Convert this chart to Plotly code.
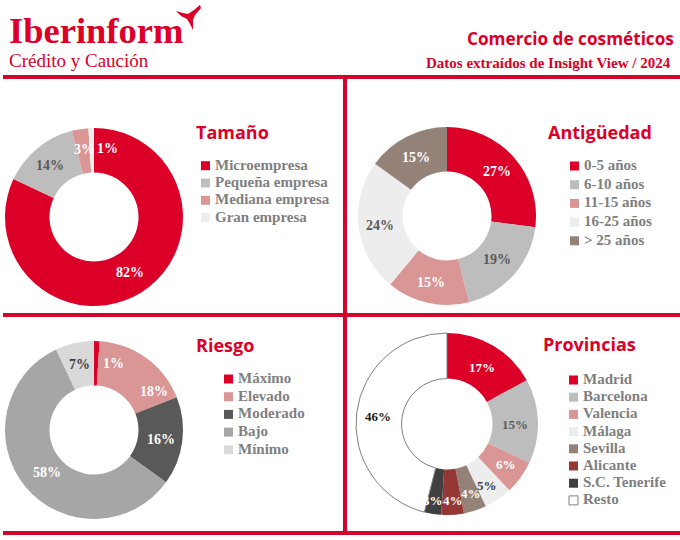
import plotly.graph_objects as go

W, H = 680, 540
RED = '#DC0028'
SLAB = 'Liberation Serif'
SANS = 'Open Sans'

# data
tam_names = ['Microempresa', 'Pequeña empresa', 'Mediana empresa', 'Gran empresa']
tam_values = [82, 14, 3, 1]
ant_names = ['0-5 años', '6-10 años', '11-15 años', '16-25 años', '> 25 años']
ant_values = [27, 19, 15, 24, 15]
rie_names = ['Máximo', 'Elevado', 'Moderado', 'Bajo', 'Mínimo']
rie_values = [1, 18, 16, 58, 7]
pro_names = ['Madrid', 'Barcelona', 'Valencia', 'Málaga', 'Sevilla', 'Alicante', 'S.C. Tenerife', 'Resto']
pro_values = [17, 15, 6, 5, 4, 4, 3, 46]

tam_colors = [RED, '#BDBDBD', '#DA9694', '#EDEDED']
ant_colors = [RED, '#BDBDBD', '#DA9694', '#EDEDED', '#948279']
rie_colors = [RED, '#DA9694', '#595959', '#A6A6A6', '#D9D9D9']
pro_colors = [RED, '#BDBDBD', '#DA9694', '#EDEDED', '#948279', '#953735', '#404040', '#FFFFFF']


def px(x):
    return x / W


def py(y):
    return 1 - y / H


fig = go.Figure()
annotations = []
shapes = []


def add_text(x, y, text, size, color, family=SLAB, anchor='left'):
    annotations.append(dict(
        x=px(x), y=py(y), xref='paper', yref='paper', text=text, showarrow=False,
        xanchor=anchor, yanchor='middle', borderpad=0,
        font=dict(size=size, color=color, family=family)
    ))


def add_donut(title, names, values, colors, cx, cy, r, title_pos, leg_x, leg_y, leg_step, label_pos, label_colors, label_size=14):
    line_w = [1 if c == '#FFFFFF' else 0 for c in colors]
    line_c = ['#7F7F7F' if c == '#FFFFFF' else c for c in colors]
    fig.add_trace(go.Pie(
        labels=names, values=values, hole=0.5, sort=False, direction='clockwise',
        rotation=0, textinfo='none', showlegend=False,
        marker=dict(colors=colors, line=dict(width=line_w, color=line_c)),
        domain=dict(x=[px(cx - r), px(cx + r)], y=[py(cy + r), py(cy - r)])
    ))
    add_text(title_pos[0], title_pos[1], '<b>%s</b>' % title, 18, RED, SANS)
    for i, name in enumerate(names):
        y = leg_y + i * leg_step
        shapes.append(dict(
            type='rect', xref='paper', yref='paper',
            x0=px(leg_x), x1=px(leg_x + 9), y0=py(y - 4.5), y1=py(y + 4.5),
            fillcolor=colors[i],
            line=dict(width=1 if colors[i] == '#FFFFFF' else 0, color='#7F7F7F')
        ))
        add_text(leg_x + 13, y - 1, '<b>%s</b>' % name, 15, '#7F7F7F')
    for v, pos, col in zip(values, label_pos, label_colors):
        add_text(pos[0], pos[1], '<b>%d%%</b>' % v, label_size, col, SLAB, 'center')


add_donut('Tamaño', tam_names, tam_values, tam_colors, 94, 217, 89, (195, 132), 201, 165.7, 17.3,
          [(130, 272), (50, 166), (84, 149), (107, 148)],
          ['white', '#595959', 'white', 'white'])
add_donut('Antigüedad', ant_names, ant_values, ant_colors, 447, 216, 89, (547, 132), 570, 166, 18.7,
          [(497, 171), (497, 260), (431, 282), (380, 225), (416, 157)],
          ['white', '#595959', 'white', '#595959', 'white'])
add_donut('Riesgo', rie_names, rie_values, rie_colors, 94, 430, 89, (195, 345), 224, 379, 17.7,
          [(113, 363), (154, 391), (161, 439), (47, 472), (79, 364)],
          ['white', 'white', 'white', 'white', '#404040'])
add_donut('Provincias', pro_names, pro_values, pro_colors, 447, 424, 91, (542, 344), 569, 380, 17.2,
          [(482, 367), (515, 424), (506, 464), (487, 485), (471, 493), (452.5, 500), (433, 500), (378, 416)],
          ['white', '#595959', 'white', '#404040', 'white', 'white', 'white', '#1A1A1A'], label_size=13)

# red frame lines
for x0, y0, x1, y1 in [(3, 77, 680, 77), (3, 315, 680, 315), (3, 533, 680, 533), (345, 77, 345, 533)]:
    shapes.append(dict(type='line', xref='paper', yref='paper', x0=px(x0), y0=py(y0), x1=px(x1), y1=py(y1),
                       line=dict(color='#D0062C', width=4)))

# logo swoosh
swoosh = [(176, 11), (183, 13), (188, 14), (194, 10), (200, 5), (201, 8), (195, 15), (193, 20), (193, 30), (190, 24), (187, 19), (181, 16)]
shapes.append(dict(
    type='path', xref='paper', yref='paper', fillcolor=RED, line=dict(width=0),
    path='M ' + ' L '.join('%.4f,%.4f' % (px(a), py(b)) for a, b in swoosh) + ' Z'
))

add_text(8, 31, '<b>Iberinform</b>', 36.5, RED, 'Liberation Serif')
add_text(8, 60, 'Crédito y Caución', 19, RED, 'Liberation Serif')
add_text(675, 39, '<b>Comercio de cosméticos</b>', 17.2, RED, SANS, 'right')
add_text(672, 63, '<b>Datos extraídos de Insight View / 2024</b>', 15, RED, 'Liberation Serif', 'right')

fig.update_layout(
    width=W, height=H, margin=dict(l=0, r=0, t=0, b=0),
    paper_bgcolor='white', plot_bgcolor='white',
    annotations=annotations, shapes=shapes
)

# drop the browser's default page margin so the figure sits at the window corner
fig.write_html("out.html", config={'displayModeBar': False},
               post_script="document.body.style.margin='0';")
